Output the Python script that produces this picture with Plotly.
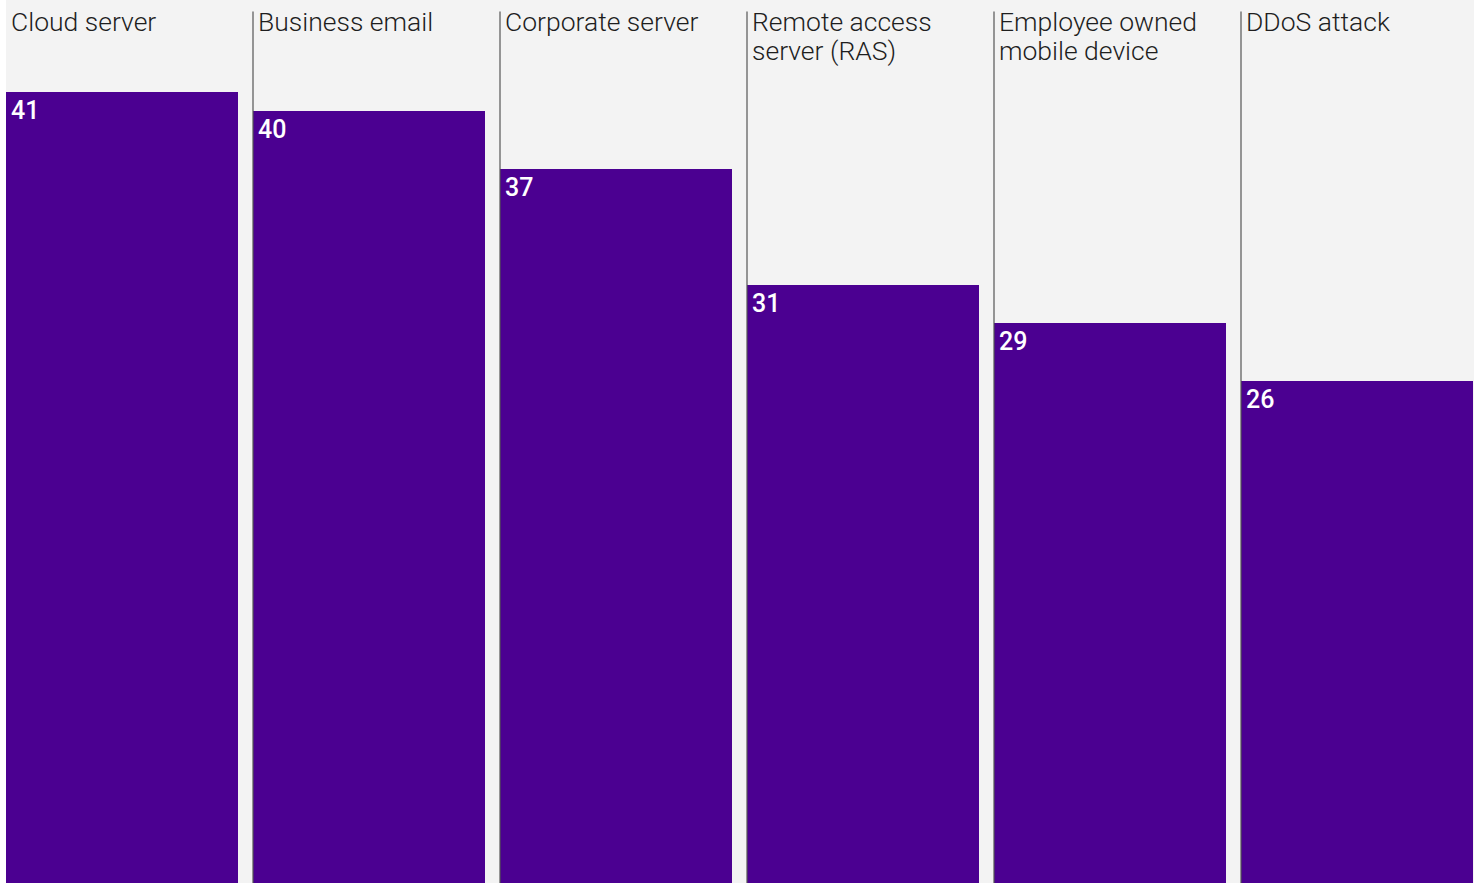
import plotly.graph_objects as go

categories = ["Cloud server", "Business email", "Corporate server",
              "Remote access<br>server (RAS)", "Employee owned<br>mobile device", "DDoS attack"]
values = [41, 40, 37, 31, 29, 26]

BAR_COLOR = "#4b0091"
BG = "#f3f3f3"
FONT = "Roboto"
LINE_GAP = 29

positions = list(range(len(categories)))

fig = go.Figure()
fig.add_trace(go.Bar(
    x=positions, y=values, width=0.939, offset=0,
    marker=dict(color=BAR_COLOR, line=dict(width=0)),
    hoverinfo="skip", showlegend=False,
))

shapes = []
annotations = []
for i, (cat, v) in enumerate(zip(categories, values)):
    if i > 0:
        shapes.append(dict(type="line", xref="x", yref="paper", x0=i, x1=i, y0=0, y1=0.987,
                           line=dict(color="#555555", width=1.2), layer="above"))
    for k, line in enumerate(cat.split("<br>")):
        annotations.append(dict(x=i, y=1, xref="x", yref="paper", text=line, showarrow=False,
                                xanchor="left", yanchor="top", align="left", xshift=3,
                                yshift=-4 - k * LINE_GAP,
                                font=dict(family=FONT, size=26.5, color="#1e1e1e", weight=300)))
    annotations.append(dict(x=i, y=v, xref="x", yref="y", text=str(v), showarrow=False,
                            xanchor="left", yanchor="top", align="left", xshift=3, yshift=-2,
                            font=dict(family=FONT, size=25, color="white", weight=500)))

fig.update_layout(
    width=1479, height=883,
    margin=dict(l=6, r=5, t=0, b=0),
    paper_bgcolor="white", plot_bgcolor=BG,
    bargap=0,
    xaxis=dict(range=[0, 1468 / 247], visible=False, fixedrange=True),
    yaxis=dict(range=[0, 45.75], visible=False, fixedrange=True),
    shapes=shapes, annotations=annotations,
)

fig.write_html("out.html", config={"displayModeBar": False},
               post_script="document.body.style.margin='0';document.body.style.overflow='hidden';")
